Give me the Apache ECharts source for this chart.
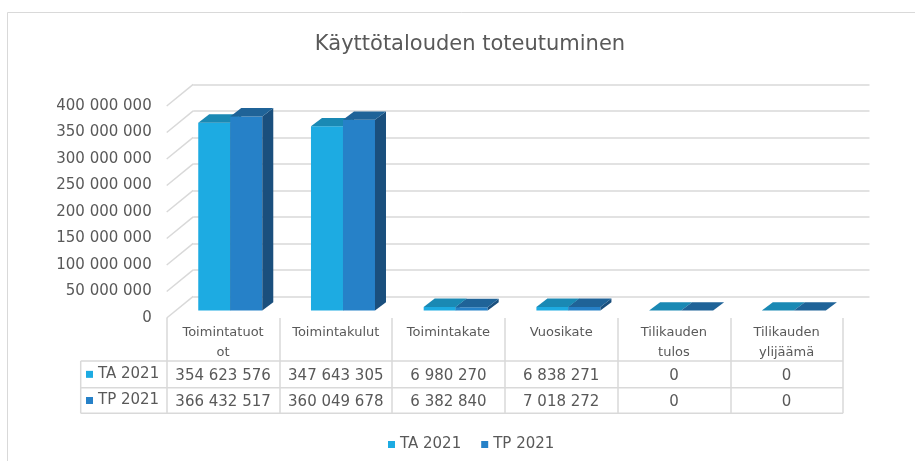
<!DOCTYPE html>
<html>
<head>
<meta charset="utf-8">
<script src="https://cdn.jsdelivr.net/npm/echarts@6/dist/echarts.min.js"></script>
<style>
  html, body { margin: 0; padding: 0; background: #fff; }
  #chart { width: 915px; height: 461px; }
</style>
</head>
<body>
<div id="chart"></div>
<script>
// data
const categories = ['Toimintatuotot', 'Toimintakulut', 'Toimintakate', 'Vuosikate', 'Tilikauden tulos', 'Tilikauden ylijäämä'];
const headerLabels = ['Toimintatuot\not', 'Toimintakulut', 'Toimintakate', 'Vuosikate', 'Tilikauden\ntulos', 'Tilikauden\nylijäämä'];
const seriesNames = ['TA 2021', 'TP 2021'];
const ta2021 = [354623576, 347643305, 6980270, 6838271, 0, 0];
const tp2021 = [366432517, 360049678, 6382840, 7018272, 0, 0];
const yTicks = [0, 50000000, 100000000, 150000000, 200000000, 250000000, 300000000, 350000000, 400000000];

// layout (3D look)
const FONT = 'DejaVu Sans';
const TEXT = '#595959';
const LINE = '#d9d9d9';
const FRONT = { left: 166.7, top: 106, right: 843, bottom: 318 };
const DX = 26.5, DY = 21.7;          // floor depth
const PLANE = 0.34;                  // bars sit this far into the floor
const BAR_DX = 11, BAR_DY = 8.4;     // bar depth
const BAR_GAP = 0.2, BAR_W = 0.284;  // fractions of category band
const ROWS = [361, 387.7, 413.3];
const TABLE_LEFT = 80.7;

const colors = [
    { front: '#1DABE2', top: '#1A89B4', side: '#17729A' },
    { front: '#2681C8', top: '#1F6398', side: '#1A4F7D' },
];

const fmt = v => String(v).replace(/\B(?=(\d{3})+(?!\d))/g, ' ');

function barRenderer(si) {
    const c = colors[si];
    return function (params, api) {
        const i = api.value(0);
        const v = api.value(1);
        const band = api.size([1, 0])[0];
        const base = api.coord([i, 0]);
        const topPt = api.coord([i, v]);
        const sx = DX * PLANE, sy = DY * PLANE;
        const x0 = base[0] - band / 2 + sx + band * BAR_GAP + si * band * BAR_W;
        const x1 = x0 + band * BAR_W;
        const yb = base[1] - sy;
        const yt = topPt[1] - sy;
        const children = [];
        if (yb - yt > 0.3) {
            children.push({ type: 'rect', shape: { x: x0, y: yt, width: x1 - x0, height: yb - yt }, style: { fill: c.front } });
            children.push({ type: 'polygon', shape: { points: [[x1, yt], [x1 + BAR_DX, yt - BAR_DY], [x1 + BAR_DX, yb - BAR_DY], [x1, yb]] }, style: { fill: c.side } });
        }
        children.push({ type: 'polygon', shape: { points: [[x0, yt], [x1, yt], [x1 + BAR_DX, yt - BAR_DY], [x0 + BAR_DX, yt - BAR_DY]] }, style: { fill: c.top } });
        return { type: 'group', children };
    };
}

const chart = echarts.init(document.getElementById('chart'));

const richHeader = (i) => {
    const lines = headerLabels[i].split('\n');
    if (lines.length < 2) lines.push(' ');
    return lines.map(l => '{h|' + l + '}').join('\n') +
        '\n{v|' + fmt(ta2021[i]) + '}\n{v|' + fmt(tp2021[i]) + '}';
};

// table borders + row labels
const tableGraphic = [
    { type: 'rect', left: 5, top: 10, shape: { width: 1000, height: 1000 }, style: { fill: 'none', stroke: LINE, lineWidth: 1 }, silent: true },
];
ROWS.forEach(y => {
    tableGraphic.push({ type: 'line', shape: { x1: TABLE_LEFT, y1: y, x2: FRONT.right, y2: y }, style: { stroke: LINE, lineWidth: 1.5 } });
});
tableGraphic.push({ type: 'line', shape: { x1: TABLE_LEFT, y1: ROWS[0], x2: TABLE_LEFT, y2: ROWS[2] }, style: { stroke: LINE, lineWidth: 1.5 } });
seriesNames.forEach((name, k) => {
    const cy = (ROWS[k] + ROWS[k + 1]) / 2;
    tableGraphic.push({ type: 'rect', shape: { x: 86, y: cy - 3.5, width: 7, height: 7 }, style: { fill: colors[k].front } });
    tableGraphic.push({ type: 'text', x: 98, y: cy, style: { text: name, font: '15px "' + FONT + '"', fill: TEXT, verticalAlign: 'middle' } });
});

const option = {
    animation: false,
    backgroundColor: '#fff',
    textStyle: { fontFamily: FONT },
    title: {
        text: 'Käyttötalouden toteutuminen',
        left: 465,
        top: 29,
        textAlign: 'center',
        textStyle: { fontSize: 21, fontWeight: 'normal', color: TEXT, fontFamily: FONT },
    },
    legend: {
        data: seriesNames,
        left: 383,
        top: 432,
        icon: 'rect',
        itemWidth: 7,
        itemHeight: 7,
        itemGap: 20,
        textStyle: { fontSize: 15, color: TEXT, fontFamily: FONT },
    },
    grid: [
        { left: FRONT.left, top: FRONT.top, width: FRONT.right - FRONT.left, height: FRONT.bottom - FRONT.top },
        { left: FRONT.left + DX, top: FRONT.top - DY, width: FRONT.right - FRONT.left, height: FRONT.bottom - FRONT.top },
    ],
    xAxis: [
        {
            type: 'category', gridIndex: 0, data: categories,
            axisLine: { show: false },
            axisTick: { show: true, interval: 0, length: ROWS[2] - FRONT.bottom, lineStyle: { color: LINE, width: 1.5 } },
            axisLabel: {
                interval: 0, margin: 5,
                formatter: (val, i) => richHeader(i),
                rich: {
                    h: { fontSize: 13, lineHeight: 20, color: TEXT, fontFamily: FONT },
                    v: { fontSize: 15, lineHeight: 26, color: TEXT, fontFamily: FONT },
                },
            },
        },
        { type: 'category', gridIndex: 1, data: categories, show: false },
    ],
    yAxis: [
        {
            type: 'value', gridIndex: 0, min: 0, max: 400000000, interval: 50000000,
            axisLine: { show: false }, axisTick: { show: false }, splitLine: { show: false },
            axisLabel: { margin: 15, fontSize: 15, color: TEXT, fontFamily: FONT, formatter: fmt },
        },
        {
            type: 'value', gridIndex: 1, min: 0, max: 400000000, interval: 50000000,
            axisLine: { show: false }, axisTick: { show: false }, axisLabel: { show: false },
            splitLine: { show: true, lineStyle: { color: LINE, width: 1.5 } },
        },
    ],
    series: [
        {
            type: 'custom', name: 'walls', xAxisIndex: 0, yAxisIndex: 0, silent: true, z: 1,
            data: yTicks.map(v => [0, v]),
            renderItem: (params, api) => {
                const p = api.coord([0, api.value(1)]);
                const x = params.coordSys.x;
                return { type: 'line', shape: { x1: x, y1: p[1], x2: x + DX, y2: p[1] - DY }, style: { stroke: LINE, lineWidth: 1.5 } };
            },
        },
        {
            type: 'custom', name: seriesNames[0], xAxisIndex: 0, yAxisIndex: 0, z: 3,
            itemStyle: { color: colors[0].front },
            data: ta2021.map((v, i) => [i, v]),
            renderItem: barRenderer(0),
        },
        {
            type: 'custom', name: seriesNames[1], xAxisIndex: 0, yAxisIndex: 0, z: 4,
            itemStyle: { color: colors[1].front },
            data: tp2021.map((v, i) => [i, v]),
            renderItem: barRenderer(1),
        },
    ],
    graphic: tableGraphic,
};

chart.setOption(option);
</script>
</body>
</html>
